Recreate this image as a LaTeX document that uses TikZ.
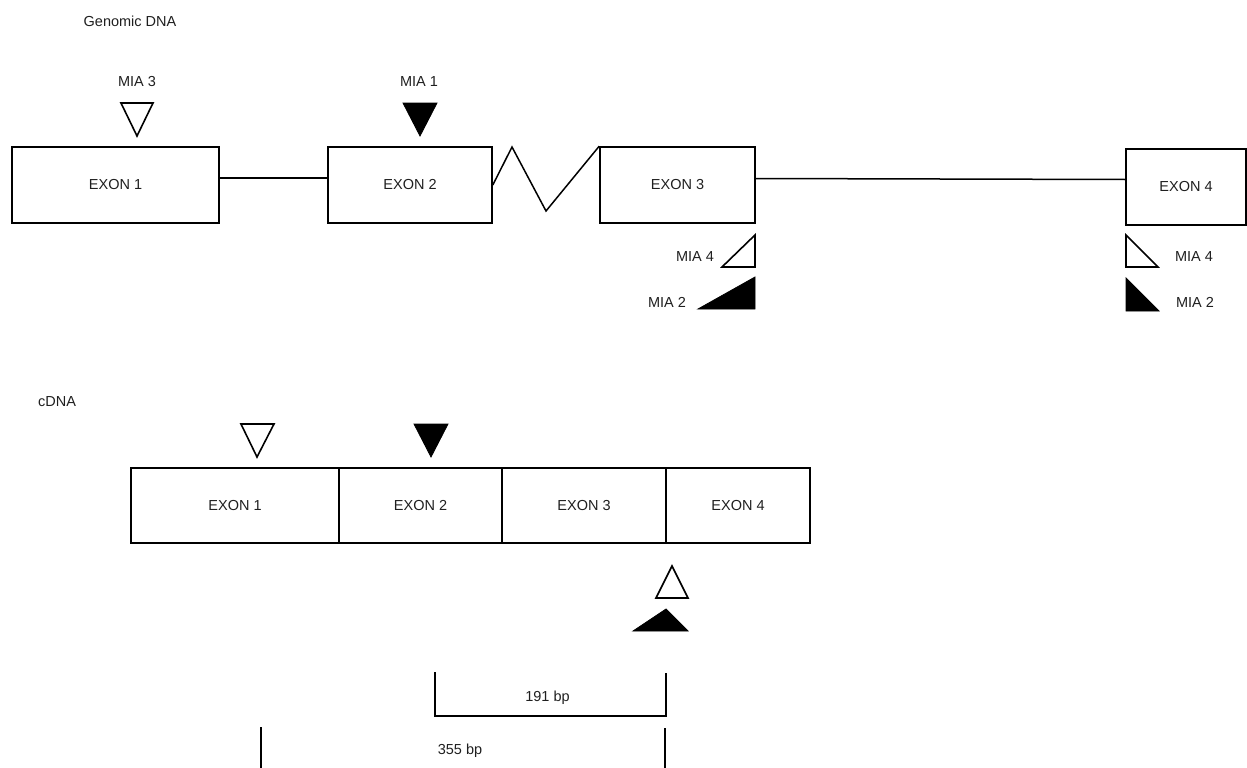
\documentclass[tikz,border=0pt]{standalone}
\usepackage{fontspec}
\setmainfont{Liberation Sans}
\usetikzlibrary{calc}
\begin{document}
\begin{tikzpicture}[x=1pt,y=-1pt,
  every node/.style={font=\fontsize{14.5}{16}\selectfont, text=black!88},
  exonbox/.style={draw, line width=1.6pt, inner sep=0pt, minimum height=76pt},
  seg/.style={draw, line width=1.6pt, inner sep=0pt, minimum height=75pt},
  link/.style={line width=1.5pt},
  tri/.style={line width=1.6pt, line join=miter},
  trifill/.style={fill=black, draw=black, line width=0.8pt},
  lbl/.style={inner sep=0pt}]
\useasboundingbox (0,0) rectangle (1247,768);

% ---- Genomic DNA ----
\node[lbl] (tgen) at (130,21) {Genomic DNA};

\node[exonbox, minimum width=207pt] (g1) at (115.5,185) {EXON 1};
\node[exonbox, minimum width=164pt] (g2) at (410,185) {EXON 2};
\node[exonbox, minimum width=155pt] (g3) at (677.5,185) {EXON 3};
\node[exonbox, minimum width=120pt] (g4) at (1186,187) {EXON 4};

\draw[link] ([yshift=7pt]g1.east) -- ([yshift=7pt]g2.west);
\coordinate (z1) at (512,147);
\coordinate (z2) at (546,211);
\draw[link, line join=miter] (g2.east) -- (z1) -- (z2) -- (g3.north west);
\draw[link] ([yshift=6.5pt]g3.east) -- ([yshift=7.5pt]g4.west);

% MIA 3 and MIA 1 above
\node[lbl] (m3) at (137,82) {MIA 3};
\draw[tri] (121,103) -- (153,103) -- (137,136) -- cycle;
\node[lbl] (m1) at (419,82) {MIA 1};
\draw[trifill] (403,103) -- (437,103) -- (420,136) -- cycle;

% Exon 3 markers
\draw[tri] (755,235) -- (755,267) -- (722,267) -- cycle;
\node[lbl] (m4a) at (695,257) {MIA 4};
\draw[trifill] (755,277) -- (755,309) -- (698,309) -- cycle;
\node[lbl] (m2a) at (667,302) {MIA 2};

% Exon 4 markers
\draw[tri] (1126,235) -- (1126,267) -- (1158,267) -- cycle;
\node[lbl] (m4b) at (1194,257) {MIA 4};
\draw[trifill] (1126,278) -- (1126,311) -- (1159,311) -- cycle;
\node[lbl] (m2b) at (1195,302) {MIA 2};

% ---- cDNA ----
\node[lbl] (tc) at (57,402) {cDNA};

\node[seg, minimum width=208pt] (c1) at (235,505.5) {EXON 1};
\node[seg, minimum width=163pt] (c2) at (420.5,505.5) {EXON 2};
\node[seg, minimum width=164pt] (c3) at (584,505.5) {EXON 3};
\node[seg, minimum width=144pt] (c4) at (738,505.5) {EXON 4};

\draw[tri] (241,424) -- (274,424) -- (257,457) -- cycle;
\draw[trifill] (414,424) -- (448,424) -- (431,457) -- cycle;

\draw[tri] (672,566) -- (688,598) -- (656,598) -- cycle;
\draw[trifill] (666,609) -- (688,631) -- (633,631) -- cycle;

% ---- brackets ----
\coordinate (b1a) at (435,672);
\coordinate (b1b) at (435,716);
\coordinate (b1c) at (666,716);
\coordinate (b1d) at (666,673);
\draw[line width=1.6pt] (b1a) -- (b1b) -- (b1c) -- (b1d);
\node[lbl] (l191) at (547.5,698) {191 bp};

\coordinate (b2a) at (261,727);
\coordinate (b2b) at (261,768);
\coordinate (b2c) at (665,728);
\coordinate (b2d) at (665,768);
\draw[line width=1.6pt] (b2a) -- (b2b);
\draw[line width=1.6pt] (b2c) -- (b2d);
\node[lbl] (l355) at (460,751) {355 bp};
\end{tikzpicture}
\end{document}
